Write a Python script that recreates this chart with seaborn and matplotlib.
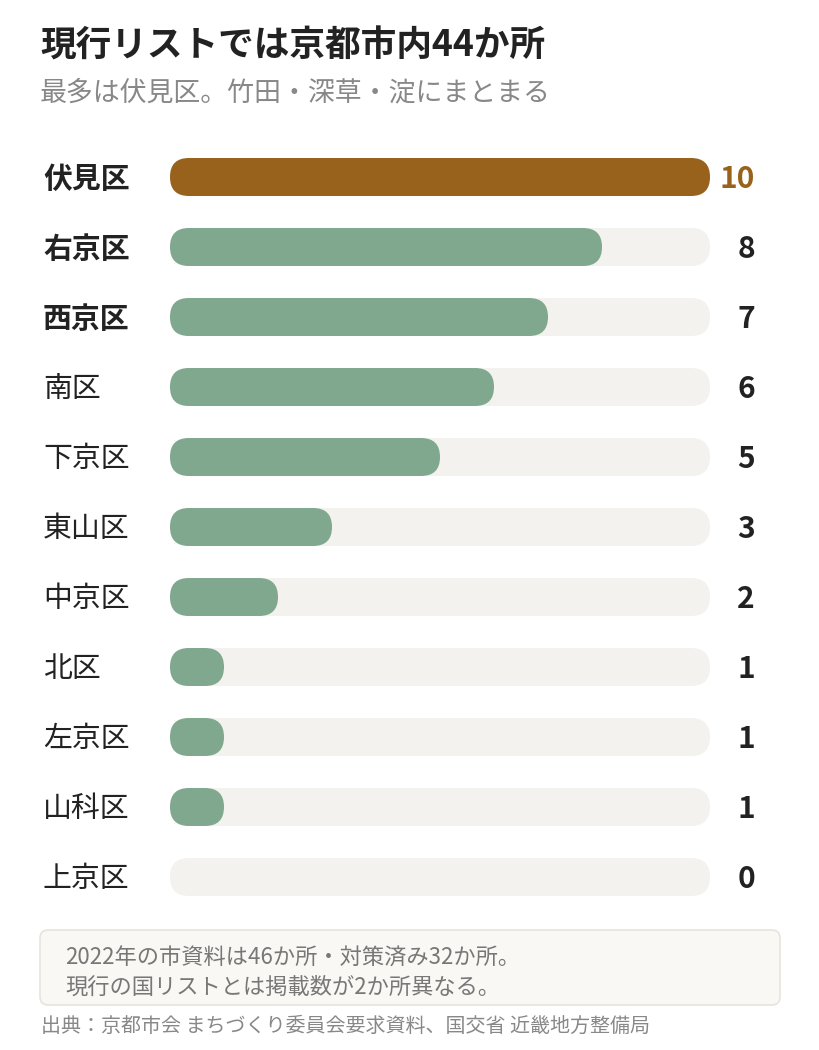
import pandas as pd
import seaborn as sns
import matplotlib.pyplot as plt
from matplotlib.patches import FancyBboxPatch
from matplotlib import transforms

# データ
wards = ["伏見区", "右京区", "西京区", "南区", "下京区", "東山区",
         "中京区", "北区", "左京区", "山科区", "上京区"]
counts = [10, 8, 7, 6, 5, 3, 2, 1, 1, 1, 0]
bold_wards = ["伏見区", "右京区", "西京区"]
max_value = 10

title = "現行リストでは京都市内44か所"
subtitle = "最多は伏見区。竹田・深草・淀にまとまる"
note_lines = ["2022年の市資料は46か所・対策済み32か所。",
              "現行の国リストとは掲載数が2か所異なる。"]
source = "出典：京都市会 まちづくり委員会要求資料、国交省 近畿地方整備局"

BROWN = "#98621c"
GREEN = "#7fa88e"
TRACK = "#f3f2ee"
DARK = "#222222"
GRAY = "#888888"

sns.set_theme(style="white")
plt.rcParams["font.family"] = ["Noto Sans CJK JP", "DejaVu Sans"]

W, H = 820, 1050
fig = plt.figure(figsize=(W / 100, H / 100), dpi=100)
fig.patch.set_facecolor("white")

# 軸の位置 (ピクセル)
ax_l, ax_r, ax_t, ax_b = 170, 710, 142, 912
ax = fig.add_axes([ax_l / W, 1 - ax_b / H, (ax_r - ax_l) / W, (ax_b - ax_t) / H])

df = pd.DataFrame({"ward": wards, "count": counts})
df["track"] = max_value
palette = {w: (BROWN if i == 0 else GREEN) for i, w in enumerate(wards)}

bar_h = 38 / 70
sns.barplot(data=df, y="ward", x="track", color=TRACK, width=bar_h, ax=ax,
            orient="h", saturation=1)
sns.barplot(data=df, y="ward", x="count", hue="ward", palette=palette, width=bar_h,
            ax=ax, orient="h", legend=False, dodge=False, saturation=1)

ax.set_xlim(0, max_value)
ax.set_ylim(len(wards) - 0.5, -0.5)
ax.axis("off")

# 角丸に置き換え
px_per_x = (ax_r - ax_l) / max_value
px_per_y = (ax_b - ax_t) / len(wards)
radius_px = 19
rs = radius_px / px_per_x
ma = px_per_x / px_per_y
for p in list(ax.patches):
    x, y, w, h = p.get_x(), p.get_y(), p.get_width(), p.get_height()
    fc = p.get_facecolor()
    p.remove()
    if w <= 0:
        continue
    ax.add_patch(FancyBboxPatch((x, y), w, h,
                                boxstyle=f"round,pad=0,rounding_size={rs}",
                                mutation_aspect=ma, fc=fc, ec="none", lw=0))

# ラベルと値
dy = 2 / px_per_y
lab_tr = transforms.blended_transform_factory(fig.transFigure, ax.transData)
for i, (w, c) in enumerate(zip(wards, counts)):
    ax.text(43 / W, i + dy, w, transform=lab_tr, ha="left", va="center",
            fontsize=20.8, color=DARK,
            fontweight="bold" if w in bold_wards else "normal")
    ax.text((755 - ax_l) / px_per_x, i + dy, str(c), ha="right", va="center",
            fontsize=21.5, fontweight="bold", color=BROWN if i == 0 else DARK,
            clip_on=False)

# タイトル
fig.text(40 / W, 1 - 46 / H, title, ha="left", va="center",
         fontsize=25.7, fontweight="bold", color=DARK)
fig.text(40 / W, 1 - 93 / H, subtitle, ha="left", va="center",
         fontsize=19.4, color=GRAY)

# 注記ボックス
box = FancyBboxPatch((40 / W, 1 - 1005 / H), 740 / W, 75 / H,
                     boxstyle="round,pad=0,rounding_size=0.01",
                     mutation_aspect=W / H,
                     transform=fig.transFigure, fc="#f9f8f5", ec="#e6e4dd", lw=1.2)
fig.patches.append(box)
fig.text(65 / W, 1 - 958 / H, note_lines[0], ha="left", va="center",
         fontsize=16, color="#777777")
fig.text(65 / W, 1 - 987 / H, note_lines[1], ha="left", va="center",
         fontsize=16, color="#777777")
fig.text(41 / W, 1 - 1026 / H, source, ha="left", va="center",
         fontsize=14.4, color=GRAY)

fig.savefig("out.png", dpi=100, facecolor="white")
